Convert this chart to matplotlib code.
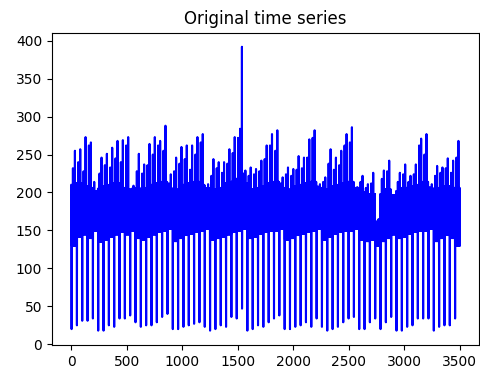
### original time series: daily cycles (48 samples/day)

import numpy as np
import matplotlib
matplotlib.use("Agg")
import matplotlib.pyplot as plt

samples_per_day = 48
n_samples = 3500

# per-day values
day_trough = [20, 25, 31, 31, 34, 18, 18, 25, 23, 34, 34, 38, 29,
              23, 25, 25, 29, 36, 40, 20, 20, 23, 25, 27, 29, 23, 18, 20,
              25, 23, 36, 34, 47, 18, 20, 25, 23, 29, 34, 38, 20, 20, 23,
              25, 29, 23, 34, 23, 18, 20, 23, 29, 34, 36, 20, 20, 29, 34,
              20, 29, 36, 18, 18, 23, 25, 34, 34, 34, 18, 23, 25, 25, 34]
day_peak = [255, 257, 273, 266, 202, 246, 251, 259, 268, 269, 273, 209, 251,
            237, 264, 273, 268, 288, 224, 246, 260, 262, 262, 273, 277, 211, 244, 240,
            240, 257, 273, 284, 229, 233, 231, 242, 262, 277, 282, 220, 233, 231, 248,
            246, 270, 282, 211, 220, 257, 246, 255, 277, 286, 207, 222, 211, 226, 165,
            229, 242, 193, 226, 237, 222, 237, 271, 277, 211, 235, 233, 245, 242, 268]
# second, lower stroke above the band on each day
day_shoulder = [232, 240, 228, 262, 214, 225, 236, 233, 245, 240, 262, 205, 228,
                225, 236, 250, 262, 255, 212, 228, 238, 244, 230, 250, 266, 206, 222, 232,
                226, 238, 252, 272, 225, 222, 224, 228, 244, 262, 255, 212, 224, 222, 230,
                232, 246, 272, 208, 214, 238, 230, 236, 262, 266, 204, 214, 206, 212, 162,
                218, 228, 190, 214, 224, 214, 224, 262, 250, 207, 222, 226, 232, 226, 246]
band_high = [210, 212, 208, 206, 200, 205, 208, 210, 212, 206, 204, 203, 205,
             200, 206, 210, 212, 214, 205, 200, 204, 210, 212, 214, 210, 205, 198, 204,
             206, 212, 214, 218, 212, 200, 204, 206, 208, 212, 214, 206, 200, 204, 208,
             210, 212, 214, 206, 200, 204, 208, 210, 212, 214, 206, 200, 196, 198, 160,
             198, 204, 196, 202, 206, 206, 208, 210, 214, 205, 204, 206, 208, 206, 206]
band_low = [130, 142, 145, 140, 150, 135, 138, 142, 145, 148, 145, 150, 140,
            138, 142, 145, 148, 150, 152, 136, 140, 144, 146, 148, 150, 152, 138, 140,
            142, 145, 148, 150, 152, 140, 142, 146, 148, 150, 150, 152, 138, 140, 144,
            146, 148, 150, 152, 138, 142, 146, 148, 150, 150, 152, 138, 136, 138, 130,
            136, 140, 145, 140, 142, 146, 148, 150, 150, 152, 136, 140, 144, 140, 130]

# isolated spike just before the trough of day 32
spike_index = [1537]
spike_value = [392]


def build_series():
    values = []
    for day in range(len(day_peak)):
        for i in range(samples_per_day):
            if i == 2:
                values.append(day_trough[day])
            elif i == 32:
                values.append(day_peak[day])
            elif i == 14:
                values.append(day_shoulder[day])
            elif i % 2 == 0:
                values.append(band_high[day])
            else:
                values.append(band_low[day])
    values = values[:n_samples]
    for idx, v in zip(spike_index, spike_value):
        values[idx] = v
    return np.array(values, dtype=float)


def main():
    series = build_series()

    fig = plt.figure(figsize=(4.81, 3.70), dpi=100)
    ax = fig.add_axes([0.108, 0.068, 0.888, 0.844])
    ax.plot(np.arange(len(series)), series, color="blue")
    ax.set_title("Original time series")

    fig.savefig("out.png", dpi=100)


if __name__ == "__main__":
    main()
